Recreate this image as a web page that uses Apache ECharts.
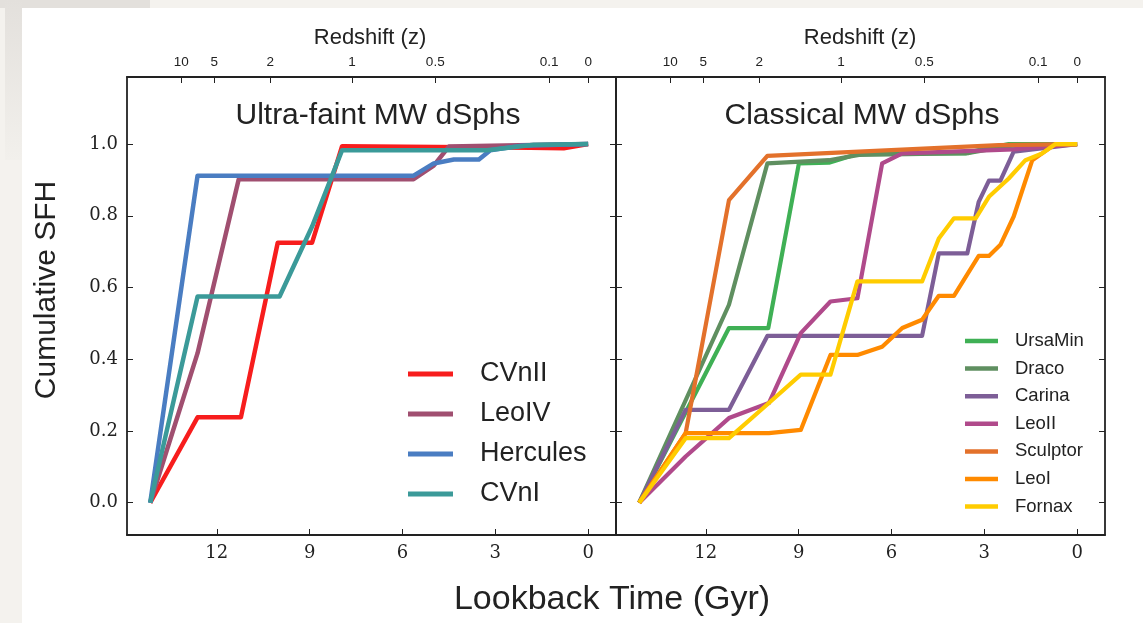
<!DOCTYPE html>
<html>
<head>
<meta charset="utf-8">
<script src="https://cdn.jsdelivr.net/npm/echarts@6/dist/echarts.min.js"></script>
<style>
  html, body { margin:0; padding:0; width:1143px; height:623px; overflow:hidden; background:#f4f2ee; }
  #gray1 { position:absolute; left:0; top:0; width:150px; height:8px; background:#e3e0dc; }
  #gray2 { position:absolute; left:5px; top:0; width:17px; height:160px; background:linear-gradient(#e3e0dc,#f2f0ec); }
  #paper { position:absolute; left:22px; top:8px; width:1121px; height:615px; background:#ffffff; }
  #chart { position:absolute; left:0; top:0; width:1143px; height:623px; }
</style>
</head>
<body>
<div id="gray1"></div><div id="gray2"></div><div id="paper"></div>
<div id="chart"></div>
<script>
// ---- data (lookback time in Gyr, cumulative SFH) ----
const lookbackTicks = [12, 9, 6, 3, 0];
const sfhTicks = [0, 0.2, 0.4, 0.6, 0.8, 1.0];
const redshiftLabels = ['10', '5', '2', '1', '0.5', '0.1', '0'];
const redshiftLookback = [13.15, 12.08, 10.27, 7.63, 4.94, 1.26, 0];

const panelTitles = ['Ultra-faint MW dSphs', 'Classical MW dSphs'];

// Ultra-faint panel
const ufNames = ['CVnII', 'LeoIV', 'Hercules', 'CVnI'];
const CVnII = [[14.15,0],[12.62,0.238],[11.22,0.238],[10.03,0.725],[8.92,0.725],[7.95,0.994],[1.86,0.990],[0.79,0.988],[0,1.0]];
const LeoIV = [[14.15,0],[12.62,0.417],[11.29,0.902],[5.64,0.902],[4.99,0.94],[4.5,0.993],[0,1.0]];
const Hercules = [[14.15,0],[12.62,0.912],[5.64,0.912],[4.99,0.946],[4.34,0.957],[3.53,0.957],[3.16,0.983],[2.2,0.995],[0,1.0]];
const CVnI = [[14.15,0],[12.62,0.575],[9.97,0.575],[8.92,0.770],[7.95,0.983],[3.27,0.983],[1.76,0.998],[0,1.0]];

// Classical panel
const clNames = ['UrsaMin', 'Draco', 'Carina', 'LeoII', 'Sculptor', 'LeoI', 'Fornax'];
const UrsaMin = [[14.15,0],[11.25,0.487],[9.98,0.487],[8.99,0.946],[8.02,0.948],[7.05,0.974],[3.61,0.974],[3.18,0.983],[2.21,1.0],[0,1.0]];
const Draco = [[14.15,0],[11.25,0.552],[10.01,0.946],[8.02,0.955],[7.05,0.970],[3.5,0.975],[2.2,0.995],[0,1.0]];
const Carina = [[14.15,0],[12.65,0.259],[11.25,0.259],[10.01,0.465],[5.01,0.465],[4.47,0.695],[3.55,0.695],[3.18,0.839],[2.85,0.898],[2.48,0.898],[2.05,0.979],[0,1.0]];
const LeoII = [[14.15,0],[12.65,0.129],[11.25,0.236],[9.96,0.278],[8.93,0.473],[7.97,0.561],[7.10,0.570],[6.30,0.946],[5.65,0.974],[2.05,0.985],[0,1.0]];
const Sculptor = [[14.15,0],[12.65,0.194],[11.25,0.844],[10.01,0.967],[2.53,0.997],[0,1.0]];
const LeoI = [[14.15,0],[12.65,0.194],[9.96,0.194],[8.93,0.203],[7.97,0.412],[7.10,0.412],[6.30,0.435],[5.65,0.487],[5.01,0.51],[4.47,0.577],[3.98,0.577],[3.18,0.688],[2.85,0.688],[2.48,0.719],[2.05,0.798],[1.45,0.955],[1.13,0.974],[0.70,1.0],[0,1.0]];
const Fornax = [[14.15,0],[12.65,0.180],[11.25,0.180],[9.96,0.278],[8.93,0.357],[7.97,0.357],[7.10,0.617],[5.01,0.617],[4.47,0.737],[3.98,0.793],[3.28,0.793],[2.85,0.853],[2.21,0.904],[1.67,0.955],[1.13,0.974],[0.70,1.0],[0,1.0]];

const ufData = [CVnII, LeoIV, Hercules, CVnI];
const clData = [UrsaMin, Draco, Carina, LeoII, Sculptor, LeoI, Fornax];
const ufColors = ['#f71d1d', '#a04f70', '#4a7dc2', '#3b9a99'];
const clColors = ['#3fb055', '#5f8f60', '#7d5e97', '#b04a8b', '#e3712b', '#ff8a00', '#ffcc00'];

// ---- chart ----
const AX = '#222';
const SANS = 'Liberation Sans';
const SERIF = 'DejaVu Serif';
const XMIN = -0.9, XMAX = 14.9, YMIN = -0.09, YMAX = 1.187;

function xBottom(gi) {
  return {
    type: 'value', gridIndex: gi, inverse: true, min: XMIN, max: XMAX, position: 'bottom',
    axisLine: { show: true, onZero: false, lineStyle: { color: AX, width: 1.8 } },
    axisTick: { show: true, inside: true, length: 6, customValues: lookbackTicks, lineStyle: { color: AX, width: 1 } },
    axisLabel: { show: true, customValues: lookbackTicks, formatter: v => String(Math.round(v)), fontFamily: SERIF, fontSize: 18, color: AX, margin: 9 },
    splitLine: { show: false }
  };
}
function xTop(gi) {
  return {
    type: 'value', gridIndex: gi, inverse: true, min: XMIN, max: XMAX, position: 'top',
    axisLine: { show: true, onZero: false, lineStyle: { color: AX, width: 1.8 } },
    axisTick: { show: true, inside: true, length: 6, customValues: redshiftLookback, lineStyle: { color: AX, width: 1 } },
    axisLabel: {
      show: true, customValues: redshiftLookback,
      formatter: v => {
        let best = 0, bd = 1e9;
        redshiftLookback.forEach((t, i) => { const d = Math.abs(t - v); if (d < bd) { bd = d; best = i; } });
        return redshiftLabels[best];
      },
      fontFamily: SANS, fontSize: 13.5, color: AX, margin: 8
    },
    splitLine: { show: false }
  };
}
function yAxis(gi, pos, labels) {
  return {
    type: 'value', gridIndex: gi, min: YMIN, max: YMAX, position: pos,
    axisLine: { show: true, onZero: false, lineStyle: { color: AX, width: 1.8 } },
    axisTick: { show: true, inside: true, length: 6, customValues: sfhTicks, lineStyle: { color: AX, width: 1 } },
    axisLabel: { show: labels, customValues: sfhTicks, formatter: v => v.toFixed(1), fontFamily: SERIF, fontSize: 18, color: AX, margin: 9 },
    splitLine: { show: false }
  };
}

const series = [];
ufNames.forEach((n, i) => series.push({
  name: n, type: 'line', xAxisIndex: 0, yAxisIndex: 0, data: ufData[i], symbol: 'none',
  lineStyle: { color: ufColors[i], width: 4.5, join: 'round', cap: 'butt' }, itemStyle: { color: ufColors[i] },
  silent: true, animation: false
}));
clNames.forEach((n, i) => series.push({
  name: n, type: 'line', xAxisIndex: 2, yAxisIndex: 2, data: clData[i], symbol: 'none',
  lineStyle: { color: clColors[i], width: 4.2, join: 'round', cap: 'butt' }, itemStyle: { color: clColors[i] },
  silent: true, animation: false
}));

const option = {
  backgroundColor: 'transparent',
  animation: false,
  grid: [
    { left: 127, right: 527, top: 77, bottom: 88, containLabel: false },
    { left: 616, right: 38, top: 77, bottom: 88, containLabel: false }
  ],
  xAxis: [xBottom(0), xTop(0), xBottom(1), xTop(1)],
  yAxis: [yAxis(0, 'left', true), yAxis(0, 'right', false), yAxis(1, 'left', false), yAxis(1, 'right', false)],
  legend: [
    {
      data: ufNames, orient: 'vertical', left: 408, top: 359, padding: 0,
      icon: 'rect', itemWidth: 45, itemHeight: 5, itemGap: 10, selectedMode: false,
      textStyle: { fontFamily: SANS, fontSize: 27, color: AX, lineHeight: 30, padding: [0, 0, 0, 22] }
    },
    {
      data: clNames, orient: 'vertical', left: 965, top: 330, padding: 0,
      icon: 'rect', itemWidth: 33, itemHeight: 4.5, itemGap: 5.6, selectedMode: false,
      textStyle: { fontFamily: SANS, fontSize: 18.5, color: AX, lineHeight: 22, padding: [0, 0, 0, 12] }
    }
  ],
  graphic: [
    { type: 'text', x: 370, y: 38, style: { text: 'Redshift (z)', font: '22px "Liberation Sans"', fill: AX, textAlign: 'center', textVerticalAlign: 'middle' } },
    { type: 'text', x: 860, y: 38, style: { text: 'Redshift (z)', font: '22px "Liberation Sans"', fill: AX, textAlign: 'center', textVerticalAlign: 'middle' } },
    { type: 'text', x: 378, y: 116, style: { text: panelTitles[0], font: '30px "Liberation Sans"', fill: AX, textAlign: 'center', textVerticalAlign: 'middle' } },
    { type: 'text', x: 862, y: 116, style: { text: panelTitles[1], font: '30px "Liberation Sans"', fill: AX, textAlign: 'center', textVerticalAlign: 'middle' } },
    { type: 'text', x: 612, y: 600, style: { text: 'Lookback Time (Gyr)', font: '34px "Liberation Sans"', fill: AX, textAlign: 'center', textVerticalAlign: 'middle' } },
    { type: 'text', x: 47, y: 290, rotation: Math.PI / 2, style: { text: 'Cumulative SFH', font: '30px "Liberation Sans"', fill: AX, textAlign: 'center', textVerticalAlign: 'middle' } }
  ],
  series: series
};

const chart = echarts.init(document.getElementById('chart'), null, { renderer: 'canvas' });
chart.setOption(option);
</script>
</body>
</html>
